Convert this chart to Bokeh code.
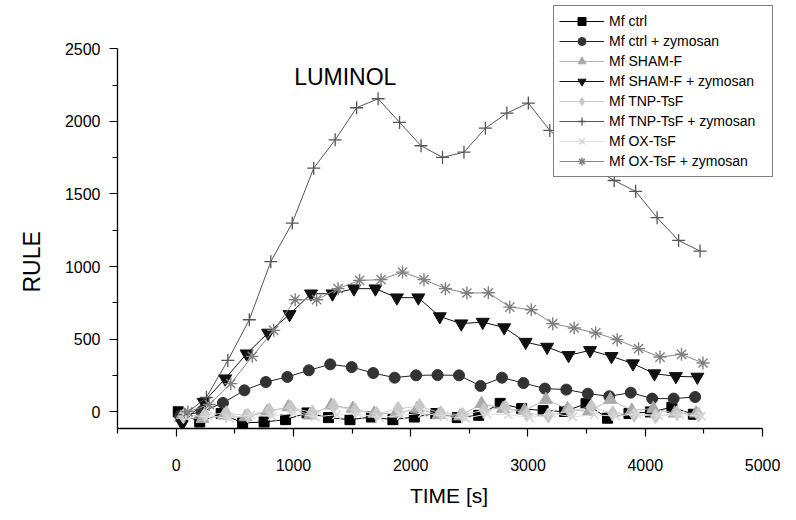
from bokeh.plotting import figure
from bokeh.models import Range1d, FixedTicker, Label, Legend, LegendItem, Title
from bokeh.embed import file_html
from bokeh.resources import INLINE

# ---- data ----
series_names = ["Mf ctrl", "Mf ctrl + zymosan", "Mf SHAM-F", "Mf SHAM-F + zymosan",
                "Mf TNP-TsF", "Mf TNP-TsF + zymosan", "Mf OX-TsF", "Mf OX-TsF + zymosan"]

t_ctrl = [18, 201, 384, 567, 750, 933, 1116, 1299, 1482, 1665, 1848, 2031, 2214, 2397, 2580, 2763, 2946, 3129, 3312, 3495, 3678, 3861, 4044, 4227, 4410]
t_ctrl_z = [33, 216, 399, 582, 765, 948, 1131, 1314, 1497, 1680, 1863, 2046, 2229, 2412, 2595, 2778, 2961, 3144, 3327, 3510, 3693, 3876, 4059, 4242, 4425]
t_sham = [42, 225, 408, 591, 774, 957, 1140, 1323, 1506, 1689, 1872, 2055, 2238, 2421, 2604, 2787, 2970, 3153, 3336, 3519, 3702, 3885, 4068, 4251, 4434]
t_sham_z = [52, 235, 418, 601, 784, 967, 1150, 1333, 1516, 1699, 1882, 2065, 2248, 2431, 2614, 2797, 2980, 3163, 3346, 3529, 3712, 3895, 4078, 4261, 4444]
t_tnp = [62, 245, 428, 611, 794, 977, 1160, 1343, 1526, 1709, 1892, 2075, 2258, 2441, 2624, 2807, 2990, 3173, 3356, 3539, 3722, 3905, 4088, 4271, 4454]
t_tnp_z = [75, 258, 441, 624, 807, 990, 1173, 1356, 1539, 1722, 1905, 2088, 2271, 2454, 2637, 2820, 3003, 3186, 3369, 3552, 3735, 3918, 4101, 4284, 4467]
t_ox = [88, 271, 454, 637, 820, 1003, 1186, 1369, 1552, 1735, 1918, 2101, 2284, 2467, 2650, 2833, 3016, 3199, 3382, 3565, 3748, 3931, 4114, 4297, 4480]
t_ox_z = [100, 283, 466, 649, 832, 1015, 1198, 1381, 1564, 1747, 1930, 2113, 2296, 2479, 2662, 2845, 3028, 3211, 3394, 3577, 3760, 3943, 4126, 4309, 4492]

ctrl = [0, -70, -12, -77, -70, -54, -8, -40, -54, -36, -54, -36, -12, -40, -24, 58, 22, 8, 2, 56, -44, -12, -1, 31, -17]
ctrl_z = [-30, 0, 61, 148, 205, 240, 286, 327, 308, 267, 235, 251, 253, 251, 178, 235, 198, 160, 153, 125, 107, 132, 91, 91, 102]
sham = [-40, -47, -24, -36, -1, 33, -24, 45, 22, -12, -12, 22, -20, -30, 56, 22, 10, 84, 20, 0, 84, 10, 22, -10, -10]
sham_z = [-81, 67, 228, 400, 543, 671, 813, 813, 848, 848, 786, 786, 656, 607, 618, 580, 480, 446, 389, 423, 382, 332, 263, 244, 240]
tnp = [-30, -20, -10, -25, 10, 30, -5, 40, 10, -15, 20, 40, -10, -20, 10, 30, -15, -25, 5, 35, -10, -20, -30, -10, -20]
tnp_z = [-20, 100, 354, 634, 1034, 1300, 1678, 1873, 2094, 2156, 1993, 1832, 1752, 1788, 1953, 2057, 2126, 1938, 1800, 1680, 1593, 1518, 1337, 1180, 1107]
ox = [-40, -30, -45, -20, -30, -10, -35, -20, -15, -40, -25, -10, -30, -45, -15, -20, -40, -10, -35, -20, -30, -15, -25, -20, -30]
ox_z = [0, 50, 194, 382, 561, 772, 772, 848, 905, 910, 962, 910, 848, 818, 820, 721, 703, 607, 577, 543, 497, 435, 377, 396, 336]

x_ticks = [0, 1000, 2000, 3000, 4000, 5000]
x_minor = [-500, 500, 1500, 2500, 3500, 4500]
y_ticks = [0, 500, 1000, 1500, 2000, 2500]
y_minor = [250, 750, 1250, 1750, 2250]

FONT = "Liberation Sans"

p = figure(width=796, height=520, output_backend="svg", toolbar_location=None,
           x_range=Range1d(-500, 5153), y_range=Range1d(-115, 2798),
           min_border_left=117, min_border_right=16, min_border_top=5, min_border_bottom=92)
p.outline_line_color = None
p.xgrid.visible = False
p.ygrid.visible = False
p.background_fill_color = "white"

for ax in (p.xaxis[0], p.yaxis[0]):
    ax.axis_line_color = "black"
    ax.axis_line_width = 1.3
    ax.major_tick_line_color = "black"
    ax.minor_tick_line_color = "black"
    ax.major_tick_line_width = 1.2
    ax.minor_tick_line_width = 1.2
    ax.major_tick_in = 0
    ax.major_tick_out = 8
    ax.minor_tick_in = 0
    ax.minor_tick_out = 5
    ax.major_label_text_font = FONT
    ax.major_label_text_font_size = "16px"
    ax.major_label_text_color = "black"

p.xaxis[0].ticker = FixedTicker(ticks=x_ticks, minor_ticks=x_minor)
p.yaxis[0].ticker = FixedTicker(ticks=y_ticks, minor_ticks=y_minor)
p.xaxis[0].bounds = (-500, 5000)
p.yaxis[0].bounds = (-115, 2500)
p.xaxis[0].major_label_standoff = 22
p.yaxis[0].major_label_standoff = 9
p.xaxis[0].axis_label = "TIME [s]"
p.xaxis[0].axis_label_text_font = FONT
p.xaxis[0].axis_label_text_font_size = "21px"
p.xaxis[0].axis_label_text_font_style = "normal"
p.xaxis[0].axis_label_text_color = "black"
p.xaxis[0].axis_label_standoff = 10

styles = [
    dict(t=t_ctrl, v=ctrl, marker="square", size=10, fill="#000000", mline="#000000", conn="#000000", mw=1),
    dict(t=t_ctrl_z, v=ctrl_z, marker="circle", size=11, fill="#333333", mline="#333333", conn="#222222", mw=1),
    dict(t=t_sham, v=sham, marker="triangle", size=13, fill="#a9a9a9", mline="#a9a9a9", conn="#b5b5b5", mw=1),
    dict(t=t_sham_z, v=sham_z, marker="inverted_triangle", size=13, fill="#111111", mline="#111111", conn="#111111", mw=1),
    dict(t=t_tnp, v=tnp, marker="diamond", size=15, fill="#c8c8c8", mline="#c8c8c8", conn="#cccccc", mw=1),
    dict(t=t_tnp_z, v=tnp_z, marker="cross", size=13, fill=None, mline="#555555", conn="#555555", mw=1.3),
    dict(t=t_ox, v=ox, marker="x", size=12, fill=None, mline="#d8d8d8", conn="#e0e0e0", mw=1.6),
    dict(t=t_ox_z, v=ox_z, marker="asterisk", size=13, fill=None, mline="#808080", conn="#888888", mw=1.4),
]

items = []
for name, s in zip(series_names, styles):
    lr = p.line(s["t"], s["v"], line_color=s["conn"], line_width=1)
    kw = dict(marker=s["marker"], size=s["size"], line_color=s["mline"], line_width=s["mw"])
    kw["fill_color"] = s["fill"]
    sr = p.scatter(s["t"], s["v"], **kw)
    items.append(LegendItem(label=name, renderers=[lr, sr]))

legend = Legend(items=items, location=(436, 251), margin=0, padding=5, spacing=0,
                label_height=20, glyph_height=20, glyph_width=45, label_standoff=5,
                label_width=158,
                label_text_font=FONT, label_text_font_size="14px", label_text_color="black",
                border_line_color="black", border_line_width=1.2,
                background_fill_color="white", background_fill_alpha=1.0)
p.add_layout(legend, "center")

p.add_layout(Label(x=1442, y=2309, text="LUMINOL", text_font=FONT, text_font_size="23px",
                   text_align="center", text_baseline="middle", text_color="black"))

rule = Title(text="RULE", align="left", vertical_align="middle", offset=136, text_font=FONT,
             text_font_size="23px", text_font_style="normal", text_color="black", standoff=32)
p.add_layout(rule, "left")

open("out.html", "w").write(file_html(p, INLINE))
